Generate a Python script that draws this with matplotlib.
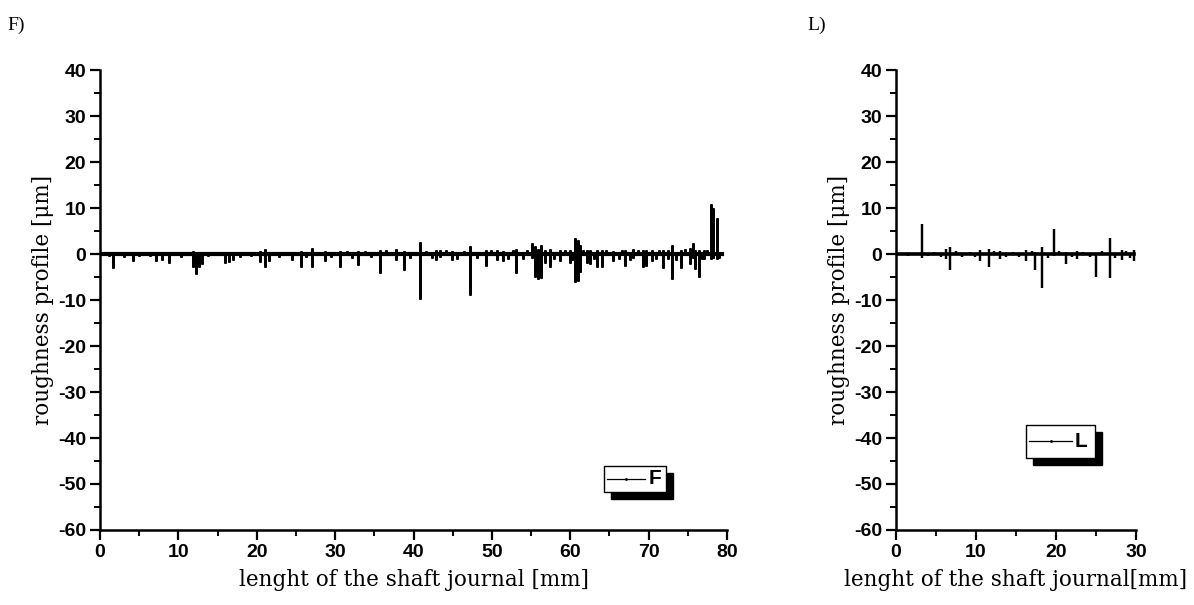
import matplotlib
matplotlib.use("Agg")
import matplotlib.pyplot as plt
from matplotlib.patches import Rectangle
from matplotlib.ticker import MultipleLocator
from matplotlib.font_manager import FontProperties
import matplotlib.transforms as mtransforms

plt.rcParams["axes.unicode_minus"] = False

# -------- DATA --------
# panel F: spikes of the roughness profile [mm], downward and upward extents [um]
f_spike_x = [1.7, 4.2, 7.2, 7.9, 8.8, 11.8, 12.2, 12.6, 13.0, 15.9, 16.4, 17.0,
             20.4, 21.0, 21.5, 24.5, 25.7, 27.0, 28.7, 30.6, 32.9, 35.7, 37.8,
             38.8, 40.8, 42.9, 43.4, 44.9, 47.2, 49.3, 50.6, 51.4, 53.1, 55.1,
             55.5, 55.9, 56.3, 56.8, 57.4, 58.7, 59.9, 60.6, 61.0, 61.2, 62.1,
             62.5, 63.4, 64.0, 65.5, 67.0, 68.0, 69.3, 69.7, 70.4, 71.8, 72.5,
             73.0, 74.1, 75.3, 75.7, 75.9, 76.4, 77.0, 78.0, 78.2, 78.7]
f_spike_lo = [-3.0, -1.6, -1.5, -1.2, -2.0, -2.7, -4.3, -2.9, -2.2, -2.0, -1.7, -1.2,
              -1.7, -2.7, -1.6, -1.2, -2.7, -2.9, -1.6, -2.7, -2.4, -4.2, -1.3,
              -3.5, -9.8, -1.3, -0.6, -1.2, -9.0, -2.6, -1.3, -1.5, -4.2, -0.8,
              -4.9, -5.5, -5.3, -2.0, -2.8, -1.5, -2.0, -6.0, -5.8, -4.0, -2.0,
              -2.2, -2.9, -2.9, -1.5, -2.5, -0.8, -2.7, -2.5, -1.5, -3.1, -1.0,
              -5.4, -3.1, -2.2, -0.8, -3.3, -4.9, -1.0, -1.1, -0.9, -1.0]
f_spike_hi = [0.4, 0.3, 0.5, 0.3, 0.4, 0.6, 0.5, 0.4, 0.5, 0.4, 0.3, 0.5,
              0.6, 1.2, 0.5, 0.5, 0.6, 1.3, 0.6, 0.7, 0.6, 0.9, 1.2,
              0.6, 2.7, 0.8, 1.0, 0.7, 1.7, 0.8, 0.8, 0.6, 1.2, 2.5,
              1.8, 1.2, 2.0, 1.0, 1.2, 0.8, 1.0, 3.4, 3.0, 2.0, 1.0,
              0.9, 0.8, 1.0, 0.7, 0.9, 1.1, 0.8, 1.0, 0.9, 0.8, 1.0,
              2.0, 1.0, 1.3, 2.5, 1.0, 0.9, 0.8, 10.9, 10.1, 7.8]
# small roughness between the spikes
f_fuzz_x = [0.5, 1.2, 2.4, 3.1, 3.8, 5.0, 5.7, 6.4, 9.5, 10.3, 11.0, 13.8, 14.5,
            17.8, 18.6, 19.3, 22.0, 22.8, 23.6, 26.3, 28.0, 29.5, 31.5, 32.2,
            33.8, 34.6, 36.5, 39.5, 41.6, 42.3, 44.1, 45.6, 46.4, 48.1, 49.9,
            52.0, 52.7, 54.0, 54.5, 57.9, 59.3, 60.2, 61.6, 63.0, 64.6, 66.2,
            66.6, 67.6, 68.6, 70.9, 71.3, 73.5, 74.6, 76.8, 77.5, 79.0]
f_fuzz_y = [0.3, -0.5, 0.2, -0.6, 0.3, -0.4, 0.4, -0.5, 0.3, -0.6, 0.4, -0.5, 0.3,
            -0.6, 0.4, -0.5, 0.3, -0.6, 0.5, -0.7, 0.5, -0.6, 0.6, -0.8,
            0.6, -0.7, 0.8, -0.9, 0.7, -0.8, 0.8, -1.0, 0.7, -0.9, 0.8,
            -1.0, 0.9, -1.1, 0.9, -1.0, 1.0, -1.2, 1.0, -1.1, 0.9, -1.0,
            1.0, -1.2, 0.9, -1.1, 1.0, -1.2, 1.1, -1.0, 0.9, -0.8]
f_end = 79.3

# panel L
l_spike_x = [3.2, 6.3, 6.8, 10.5, 11.6, 13.0, 16.3, 17.4, 18.2, 18.3, 19.75,
             21.3, 22.6, 25.0, 26.75, 28.2, 29.7]
l_spike_lo = [-0.8, -1.0, -3.5, -1.5, -2.7, -1.0, -1.5, -3.5, -0.8, -7.3, -0.5,
              -2.1, -1.0, -5.0, -5.3, -1.2, -1.5]
l_spike_hi = [6.6, 1.2, 1.5, 1.0, 1.2, 0.6, 0.8, 0.5, 1.6, 1.0, 5.4,
              0.5, 0.6, 0.3, 3.5, 1.0, 0.8]
l_fuzz_x = [0.6, 1.5, 2.3, 4.0, 4.8, 5.6, 7.5, 8.3, 9.2, 9.9, 12.2, 13.8, 14.6,
            15.4, 17.0, 19.0, 20.4, 22.0, 23.4, 24.2, 25.8, 27.4, 28.8, 29.3]
l_fuzz_y = [0.3, -0.4, 0.3, -0.5, 0.4, -0.6, 0.6, -0.7, 0.5, -0.6, 0.7, -0.6, 0.5,
            -0.7, 0.6, -0.8, 0.7, -0.6, 0.5, -0.7, 0.6, -0.8, 0.7, -0.9]
l_end = 29.8

TICK_FONT = FontProperties(family="Liberation Sans", weight="bold", size=14)
LABEL_FONT = dict(family="DejaVu Serif", size=15.5)


def build_profile(spike_x, spike_lo, spike_hi, fuzz_x, fuzz_y, x_end):
    """Turn spike lists into one polyline, like the measured trace."""
    pts = [(0.0, 0, 0.0)]
    for x, lo, hi in zip(spike_x, spike_lo, spike_hi):
        pts += [(x, 0, 0.0), (x, 1, hi), (x, 2, lo), (x, 3, 0.0)]
    for x, y in zip(fuzz_x, fuzz_y):
        pts += [(x, 0, 0.0), (x, 1, y), (x, 3, 0.0)]
    pts.append((x_end, 0, 0.0))
    pts.sort(key=lambda p: (p[0], p[1]))
    return [p[0] for p in pts], [p[2] for p in pts]


def style_axes(ax, xmax):
    for side in ("top", "right"):
        ax.spines[side].set_visible(False)
    for side in ("left", "bottom"):
        ax.spines[side].set_linewidth(1.8)
    ax.set_xlim(0, xmax)
    ax.set_ylim(-60, 40)
    ax.xaxis.set_major_locator(MultipleLocator(10))
    ax.xaxis.set_minor_locator(MultipleLocator(5))
    ax.yaxis.set_major_locator(MultipleLocator(10))
    ax.yaxis.set_minor_locator(MultipleLocator(5))
    ax.tick_params(which="major", direction="out", length=7, width=1.6, pad=3)
    ax.tick_params(which="minor", direction="out", length=4, width=1.4)
    for lab in ax.get_xticklabels() + ax.get_yticklabels():
        lab.set_fontproperties(TICK_FONT)
    ax.set_ylabel("roughness profile [\u03bcm]", labelpad=3, **LABEL_FONT)


def draw_legend(ax, fig, x0, y0, w, h, name):
    # Origin style legend box with a solid black shadow
    shift = mtransforms.offset_copy(ax.transAxes, fig=fig, x=7, y=-7, units="dots")
    ax.add_patch(Rectangle((x0, y0), w, h, transform=shift, facecolor="black",
                           edgecolor="black", clip_on=False, zorder=5))
    ax.add_patch(Rectangle((x0, y0), w, h, transform=ax.transAxes, facecolor="white",
                           edgecolor="black", linewidth=1.0, clip_on=False, zorder=6))
    ym = y0 + h / 2
    ax.plot([x0 + w * 0.04, x0 + w * 0.66], [ym, ym], transform=ax.transAxes,
            color="black", linewidth=0.9, clip_on=False, zorder=7)
    ax.plot([x0 + w * 0.36], [ym], transform=ax.transAxes, marker=".", markersize=2,
            color="black", clip_on=False, zorder=7)
    ax.text(x0 + w * 0.71, ym, name, transform=ax.transAxes, ha="left", va="center",
            family="Liberation Sans", weight="bold", size=15, zorder=8)


fig = plt.figure(figsize=(11.94, 6.05), dpi=100)
ax_f = fig.add_axes([0.0838, 0.124, 0.5251, 0.760])
ax_l = fig.add_axes([0.7504, 0.124, 0.2010, 0.760])

fx, fy = build_profile(f_spike_x, f_spike_lo, f_spike_hi, f_fuzz_x, f_fuzz_y, f_end)
ax_f.plot(fx, fy, color="black", linewidth=1.8, solid_joinstyle="miter")
ax_f.plot([0, f_end], [0, 0], color="black", linewidth=3.0)
style_axes(ax_f, 80)
ax_f.set_xlabel("lenght of the shaft journal [mm]", labelpad=6, **LABEL_FONT)
draw_legend(ax_f, fig, 0.804, 0.083, 0.099, 0.056, "F")

lx, ly = build_profile(l_spike_x, l_spike_lo, l_spike_hi, l_fuzz_x, l_fuzz_y, l_end)
ax_l.plot(lx, ly, color="black", linewidth=1.6, solid_joinstyle="miter")
ax_l.plot([0, l_end], [0, 0], color="black", linewidth=2.6)
style_axes(ax_l, 30)
ax_l.set_xlabel("lenght of the shaft journal[mm]", labelpad=6, **LABEL_FONT)
draw_legend(ax_l, fig, 0.542, 0.157, 0.287, 0.071, "L")

fig.text(0.006, 0.958, "F)", family="Liberation Serif", size=14, va="center")
fig.text(0.676, 0.958, "L)", family="Liberation Serif", size=14, va="center")

fig.savefig("out.png", dpi=100)
